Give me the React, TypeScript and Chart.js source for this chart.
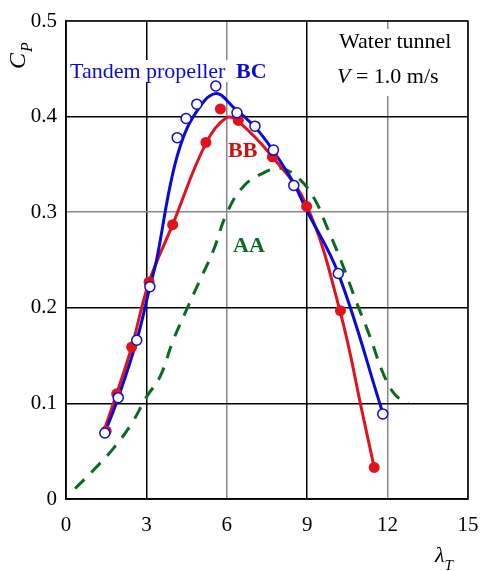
import React, { useEffect, useRef } from "react";
import { Chart, registerables } from "chart.js";

Chart.register(...registerables);

// Tick values
const xTicks = [0, 3, 6, 9, 12, 15];
const yTicks = [0, 0.1, 0.2, 0.3, 0.4, 0.5];

// BC (tandem propeller) measured points
const bcX = [1.45, 1.95, 2.64, 3.13, 4.15, 4.48, 4.88, 5.59, 6.38, 7.05, 7.74, 8.5, 10.16, 11.82];
const bcY = [0.069, 0.106, 0.166, 0.222, 0.378, 0.398, 0.413, 0.432, 0.404, 0.39, 0.365, 0.328, 0.236, 0.089];
// BC fitted curve
const bcCurveX = [1.45, 1.95, 2.64, 3.13, 3.38, 3.88, 4.25, 4.75, 5.56, 6.24, 7.24, 8.36, 8.98, 10.16, 11.82];
const bcCurveY = [0.069, 0.106, 0.166, 0.222, 0.25, 0.327, 0.368, 0.4, 0.424, 0.41, 0.383, 0.337, 0.302, 0.236, 0.09];

// BB measured points
const bbX = [1.5, 1.89, 2.45, 3.1, 3.98, 5.22, 5.76, 6.43, 7.7, 8.98, 10.24, 11.5];
const bbY = [0.071, 0.11, 0.159, 0.227, 0.287, 0.373, 0.408, 0.396, 0.358, 0.306, 0.197, 0.033];
// BB fitted curve
const bbCurveX = [1.4, 1.89, 2.45, 3.1, 3.98, 5.22, 6.0, 6.47, 7.7, 8.98, 10.22, 11.09, 11.5];
const bbCurveY = [0.07, 0.11, 0.159, 0.227, 0.287, 0.372, 0.399, 0.394, 0.358, 0.307, 0.197, 0.086, 0.033];

// AA curve (dashed)
const aaX = [0.34, 1.02, 1.77, 2.45, 3.01, 3.51, 4.0, 4.5, 5.0, 5.5, 6.0, 6.62, 7.36, 8.02, 8.73, 9.29, 9.73, 10.25, 10.85, 11.34, 11.84, 12.28, 12.77];
const aaY = [0.011, 0.03, 0.053, 0.079, 0.107, 0.128, 0.166, 0.198, 0.229, 0.26, 0.299, 0.327, 0.341, 0.346, 0.334, 0.313, 0.285, 0.25, 0.205, 0.17, 0.131, 0.109, 0.1];

const BLUE = "#0a0ad8";
const RED = "#e0121c";
const GREEN = "#0b6a22";
const SERIF = "'Liberation Serif', 'DejaVu Serif', serif";

const zip = (xs: number[], ys: number[]) => xs.map((x, i) => ({ x, y: ys[i] }));

const annotations = {
  id: "annotations",
  beforeDatasetsDraw(chart: any) {
    const ctx = chart.ctx as CanvasRenderingContext2D;
    ctx.save();
    ctx.fillStyle = "#fff";
    ctx.fillRect(330, 29, 136, 67);
    ctx.fillRect(68, 60, 205, 22);
    ctx.restore();
  },
  afterDraw(chart: any) {
    const ctx = chart.ctx as CanvasRenderingContext2D;
    const a = chart.chartArea;
    ctx.save();
    // frame
    ctx.strokeStyle = "#000";
    ctx.lineWidth = 1.5;
    ctx.strokeRect(a.left, a.top, a.right - a.left, a.bottom - a.top);

    ctx.textBaseline = "alphabetic";
    ctx.textAlign = "left";

    // Water tunnel
    ctx.fillStyle = "#000";
    ctx.font = `22px ${SERIF}`;
    ctx.fillText("Water tunnel", 339, 48);
    ctx.font = `italic 22px ${SERIF}`;
    ctx.fillText("V", 337, 83);
    const vW = ctx.measureText("V").width;
    ctx.font = `22px ${SERIF}`;
    ctx.fillText(" = 1.0 m/s", 337 + vW, 83);

    // Tandem propeller BC
    ctx.font = `22px ${SERIF}`;
    ctx.fillStyle = BLUE;
    ctx.fillText("Tandem propeller", 70, 78);
    ctx.font = `bold 22px ${SERIF}`;
    ctx.fillText("BC", 236, 78);

    // BB
    ctx.fillStyle = "#cc1111";
    ctx.font = `bold 22px ${SERIF}`;
    ctx.fillText("BB", 228, 157);

    // AA
    ctx.fillStyle = GREEN;
    ctx.fillText("AA", 233, 252);

    // y-axis title C_P (rotated)
    ctx.fillStyle = "#000";
    ctx.save();
    ctx.translate(25, 69);
    ctx.rotate(-Math.PI / 2);
    ctx.font = `italic 24px ${SERIF}`;
    ctx.fillText("C", 0, 0);
    const cw = ctx.measureText("C").width;
    ctx.font = `italic 16px ${SERIF}`;
    ctx.fillText("P", cw + 1, 7);
    ctx.restore();

    // x-axis title lambda_T
    ctx.font = `italic 22px ${SERIF}`;
    ctx.fillText("λ", 435, 562);
    const lw = ctx.measureText("λ").width;
    ctx.font = `italic 15px ${SERIF}`;
    ctx.fillText("T", 435 + lw, 570);
    ctx.restore();
  },
};

const darkX = new Set([3, 9]);
const darkY = new Set([1, 2, 4]);

export default function App() {
  const ref = useRef<HTMLCanvasElement | null>(null);
  useEffect(() => {
    if (!ref.current) return;
    const chart = new Chart(ref.current, {
      type: "scatter",
      data: {
        datasets: [
          {
            label: "BC points",
            data: zip(bcX, bcY),
            showLine: false,
            pointRadius: 5,
            pointBackgroundColor: "#fff",
            pointBorderColor: BLUE,
            pointBorderWidth: 1.5,
          },
          {
            label: "BB points",
            data: zip(bbX, bbY),
            showLine: false,
            pointRadius: 5.5,
            pointBackgroundColor: RED,
            pointBorderColor: RED,
            pointBorderWidth: 0,
          },
          {
            label: "BC",
            type: "line",
            data: zip(bcCurveX, bcCurveY),
            borderColor: BLUE,
            borderWidth: 3,
            pointRadius: 0,
            tension: 0.4,
            fill: false,
          },
          {
            label: "BB",
            type: "line",
            data: zip(bbCurveX, bbCurveY),
            borderColor: RED,
            borderWidth: 3,
            pointRadius: 0,
            tension: 0.4,
            fill: false,
          },
          {
            label: "AA",
            type: "line",
            data: zip(aaX, aaY),
            borderColor: GREEN,
            borderWidth: 3,
            borderDash: [13, 10],
            pointRadius: 0,
            tension: 0.4,
            fill: false,
          },
        ] as any,
      },
      options: {
        responsive: false,
        animation: false,
        devicePixelRatio: 1,
        layout: { padding: { top: 21, right: 14, left: 0, bottom: 0 } },
        plugins: { legend: { display: false }, tooltip: { enabled: false } },
        scales: {
          x: {
            type: "linear",
            min: 0,
            max: 15,
            afterBuildTicks: (s: any) => {
              s.ticks = xTicks.map((v) => ({ value: v }));
            },
            afterFit: (s: any) => {
              s.height = 72;
              s.paddingLeft = 0;
              s.paddingRight = 0;
            },
            ticks: {
              color: "#000",
              font: { family: SERIF, size: 21 },
              padding: 14,
              maxRotation: 0,
            },
            grid: {
              drawTicks: false,
              lineWidth: 1.5,
              color: (c: any) => (darkX.has(c.tick?.value) ? "#000" : "#888"),
            },
            border: { color: "#000", width: 1.5 },
          },
          y: {
            type: "linear",
            min: 0,
            max: 0.5,
            afterBuildTicks: (s: any) => {
              s.ticks = yTicks.map((v) => ({ value: v }));
            },
            afterFit: (s: any) => {
              s.width = 66;
              s.paddingTop = 0;
              s.paddingBottom = 0;
            },
            ticks: {
              color: "#000",
              font: { family: SERIF, size: 21 },
              padding: 9,
              callback: (v: any) => (v === 0 ? "0" : Number(v).toFixed(1)),
            },
            grid: {
              drawTicks: false,
              lineWidth: 1.5,
              color: (c: any) => (darkY.has(Math.round((c.tick?.value ?? 0) * 10)) ? "#000" : "#888"),
            },
            border: { color: "#000", width: 1.5 },
          },
        },
      },
      plugins: [annotations],
    } as any);
    return () => chart.destroy();
  }, []);
  return (
    <div style={{ position: "absolute", left: 0, top: 0, width: 482, height: 571, background: "#fff" }}>
      <canvas ref={ref} width={482} height={571} style={{ width: 482, height: 571, display: "block" }} />
    </div>
  );
}
